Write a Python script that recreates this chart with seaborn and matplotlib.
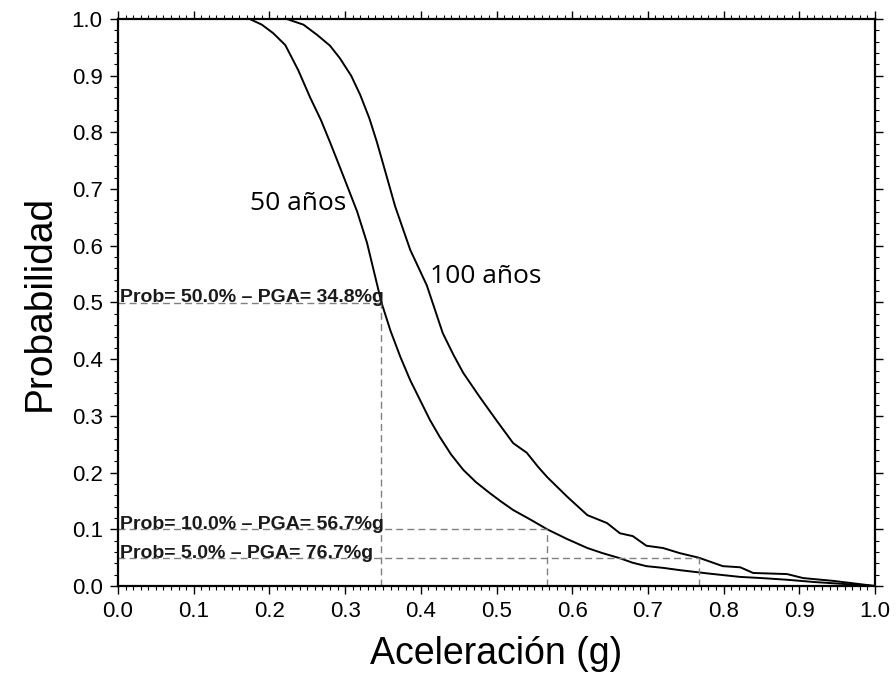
import numpy as np
import pandas as pd
import matplotlib
matplotlib.use("Agg")
import matplotlib.pyplot as plt
import seaborn as sns
from matplotlib.ticker import MultipleLocator, FormatStrFormatter

# ==============================================
# DATOS
# ==============================================
acel_50 = [0.0, 0.174, 0.19, 0.205, 0.221, 0.238, 0.254, 0.268, 0.280, 0.298,
           0.316, 0.329, 0.348, 0.360, 0.373, 0.386, 0.399, 0.412, 0.425,
           0.440, 0.456, 0.473, 0.491, 0.506, 0.522, 0.545, 0.567, 0.593,
           0.620, 0.640, 0.663, 0.680, 0.698, 0.720, 0.742, 0.780, 0.822,
           0.850, 0.884, 0.920, 0.954, 1.0]
prob_50 = [1.0, 1.0, 0.99, 0.975, 0.954, 0.910, 0.861, 0.822, 0.783, 0.722,
           0.660, 0.605, 0.500, 0.450, 0.404, 0.363, 0.328, 0.293, 0.263,
           0.232, 0.205, 0.183, 0.164, 0.149, 0.134, 0.117, 0.100, 0.083,
           0.067, 0.058, 0.049, 0.041, 0.035, 0.032, 0.028, 0.022, 0.016,
           0.014, 0.011, 0.007, 0.004, 0.0]

acel_100 = [0.0, 0.223, 0.245, 0.263, 0.280, 0.293, 0.308, 0.320, 0.332, 0.342,
            0.355, 0.366, 0.386, 0.408, 0.429, 0.443, 0.456, 0.478, 0.500,
            0.522, 0.540, 0.555, 0.567, 0.593, 0.620, 0.646, 0.663, 0.680,
            0.698, 0.720, 0.742, 0.767, 0.799, 0.822, 0.839, 0.884, 0.905,
            0.945, 1.0]
prob_100 = [1.0, 1.0, 0.990, 0.972, 0.953, 0.931, 0.900, 0.866, 0.825, 0.783,
            0.722, 0.670, 0.593, 0.530, 0.446, 0.408, 0.376, 0.333, 0.292,
            0.252, 0.235, 0.210, 0.192, 0.158, 0.125, 0.111, 0.093, 0.088,
            0.071, 0.067, 0.058, 0.050, 0.035, 0.033, 0.023, 0.021, 0.014,
            0.009, 0.0]

# Puntos de lectura (probabilidad, PGA)
ref_prob = [0.50, 0.10, 0.05]
ref_pga = [0.348, 0.567, 0.767]
ref_txt = ["Prob= 50.0% \u2013 PGA= 34.8%g",
           "Prob= 10.0% \u2013 PGA= 56.7%g",
           "Prob= 5.0% \u2013 PGA= 76.7%g"]

df = pd.concat([
    pd.DataFrame({"acel": acel_50, "prob": prob_50, "periodo": "50 años"}),
    pd.DataFrame({"acel": acel_100, "prob": prob_100, "periodo": "100 años"}),
])

# ==============================================
# GRAFICO
# ==============================================
sns.set_style("ticks")
plt.rcParams['font.family'] = ['Liberation Sans', 'DejaVu Sans']
plt.rcParams['text.color'] = 'black'
plt.rcParams['axes.labelcolor'] = 'black'
plt.rcParams['xtick.color'] = 'black'
plt.rcParams['ytick.color'] = 'black'

fig = plt.figure(figsize=(8.96, 6.83), dpi=100)
ax = fig.add_axes([118 / 896, 97 / 683, 757 / 896, 567 / 683])

sns.lineplot(data=df, x="acel", y="prob", units="periodo", estimator=None,
             color="black", lw=1.4, sort=False, ax=ax, legend=False)

# lineas de referencia
for p, g, t in zip(ref_prob, ref_pga, ref_txt):
    ax.plot([0, g], [p, p], ls=(0, (5, 3)), color="#808080", lw=1.0)
    ax.plot([g, g], [0, p], ls=(0, (5, 3)), color="#808080", lw=1.0)
    ax.text(0.002, p, t, fontsize=14, fontweight="bold", va="baseline",
            ha="left", color="#1a1a1a")

ax.text(0.174, 0.675, "50 años", fontsize=19, family=["Open Sans", "DejaVu Sans"],
        va="center", ha="left")
ax.text(0.412, 0.545, "100 años", fontsize=19, family=["Open Sans", "DejaVu Sans"],
        va="center", ha="left")

ax.set_xlim(0, 1)
ax.set_ylim(0, 1)
ax.xaxis.set_major_locator(MultipleLocator(0.1))
ax.xaxis.set_minor_locator(MultipleLocator(0.01))
ax.yaxis.set_major_locator(MultipleLocator(0.1))
ax.yaxis.set_minor_locator(MultipleLocator(0.02))
ax.xaxis.set_major_formatter(FormatStrFormatter('%.1f'))
ax.yaxis.set_major_formatter(FormatStrFormatter('%.1f'))

ax.tick_params(which="both", direction="out", top=True, right=True,
               labeltop=False, labelright=False, color="black")
ax.tick_params(which="major", length=6, width=1.0, labelsize=16, pad=5)
ax.tick_params(which="minor", length=3, width=0.8)
for s in ax.spines.values():
    s.set_linewidth(1.6)
    s.set_color("black")

ax.set_xlabel("Aceleración (g)", fontsize=27, labelpad=10)
ax.set_ylabel("Probabilidad", fontsize=28, labelpad=10)

fig.savefig("out.png", dpi=100)
plt.close(fig)
